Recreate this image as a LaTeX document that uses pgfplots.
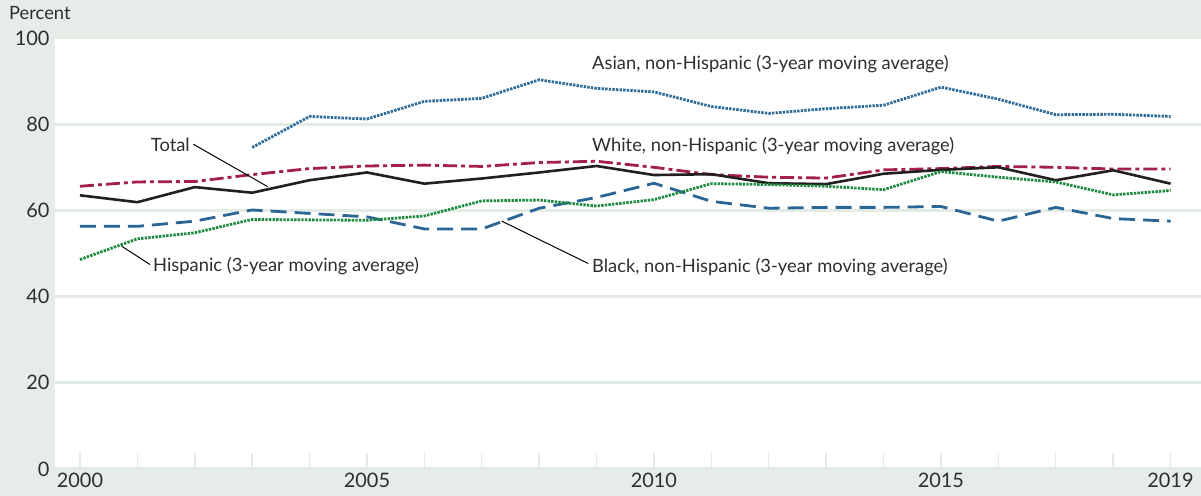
\documentclass[border=0pt]{standalone}
\usepackage{fontspec}
\setmainfont{Lato}
\usepackage{pgfplots}
\pgfplotsset{compat=1.18}

\definecolor{bgpanel}{HTML}{E6EDE8}
\definecolor{gridc}{HTML}{E3EBE5}
\definecolor{txt}{HTML}{2E2E2E}
\definecolor{asianblue}{HTML}{2E6B9A}
\definecolor{blackblue}{HTML}{2A6594}
\definecolor{whitered}{HTML}{A3204C}
\definecolor{hispgreen}{HTML}{1E8A3F}
\definecolor{totalblk}{HTML}{231F20}

\newcommand{\annfont}{\fontsize{18.4}{20}\selectfont}
\newcommand{\tickfont}{\fontsize{20}{22}\selectfont}

\begin{document}
\begin{tikzpicture}[x=1bp,y=1bp]
\fill[bgpanel] (0,0) rectangle (1201,496);
\useasboundingbox (0,0) rectangle (1201,496);
\begin{axis}[
  at={(55bp,27bp)}, anchor=south west,
  scale only axis, width=1146bp, height=431bp,
  xmin=1999.565, xmax=2019.53, ymin=0, ymax=100,
  clip mode=individual,
  axis line style={draw=none},
  axis background/.style={fill=white},
  xtick={2000,...,2019},
  xticklabels={2000,,,,,2005,,,,,2010,,,,,2015,,,,2019},
  xtick pos=bottom, tick align=inside,
  major tick length=16bp,
  x tick style={draw=gridc, line width=1.5bp},
  ytick={0,20,40,60,80,100},
  y tick style={draw=none},
  ymajorgrids,
  major grid style={draw=gridc, line width=3bp},
  /pgf/number format/assume math mode=true,
  ticklabel style={font=\tickfont, text=txt},
  yticklabel style={xshift=-2bp},
  xticklabel style={yshift=-1bp},
]
% Asian, non-Hispanic (3-year moving average)
\addplot[asianblue, line width=2.8bp, dash pattern=on 2.4bp off 1.2bp] coordinates {
(2003,74.6) (2004,81.8) (2005,81.2) (2006,85.3) (2007,86.0) (2008,90.3)
(2009,88.3) (2010,87.5) (2011,84.1) (2012,82.5) (2013,83.6) (2014,84.4)
(2015,88.6) (2016,85.8) (2017,82.2) (2018,82.3) (2019,81.8)};
% White, non-Hispanic (3-year moving average)
\addplot[whitered, line width=2.8bp, dash pattern=on 14bp off 4bp on 4bp off 4bp] coordinates {
(2000,65.6) (2001,66.6) (2002,66.7) (2003,68.3) (2004,69.7) (2005,70.3)
(2006,70.5) (2007,70.2) (2008,71.1) (2009,71.4) (2010,70.0) (2011,68.3)
(2012,67.7) (2013,67.5) (2014,69.4) (2015,69.7) (2016,70.2) (2017,70.0)
(2018,69.6) (2019,69.6)};
% Total
\addplot[totalblk, line width=2.6bp] coordinates {
(2000,63.5) (2001,61.9) (2002,65.4) (2003,64.1) (2004,67.0) (2005,68.8)
(2006,66.2) (2007,67.4) (2008,68.8) (2009,70.3) (2010,68.2) (2011,68.4)
(2012,66.3) (2013,66.1) (2014,68.5) (2015,69.4) (2016,70.0) (2017,67.0)
(2018,69.3) (2019,66.2)};
% Black, non-Hispanic (3-year moving average)
\addplot[blackblue, line width=2.8bp, dash pattern=on 16bp off 8bp] coordinates {
(2000,56.3) (2001,56.3) (2002,57.5) (2003,60.1) (2004,59.3) (2005,58.5)
(2006,55.7) (2007,55.7) (2008,60.5) (2009,63.0) (2010,66.3) (2011,62.1)
(2012,60.5) (2013,60.7) (2014,60.7) (2015,60.9) (2016,57.5) (2017,60.7)
(2018,58.1) (2019,57.5)};
% Hispanic (3-year moving average)
\addplot[hispgreen, line width=2.8bp, dash pattern=on 2.4bp off 1.2bp] coordinates {
(2000,48.6) (2001,53.4) (2002,54.8) (2003,57.9) (2004,57.8) (2005,57.7)
(2006,58.7) (2007,62.2) (2008,62.4) (2009,61.0) (2010,62.5) (2011,66.2)
(2012,66.0) (2013,65.6) (2014,64.8) (2015,69.0) (2016,67.7) (2017,66.6)
(2018,63.6) (2019,64.6)};

% series labels and leader lines
\node[anchor=base west, inner sep=0, text=txt, font=\annfont] at (axis cs:2008.92,92.6) {Asian, non-Hispanic (3-year moving average)};
\node[anchor=base west, inner sep=0, text=txt, font=\annfont] at (axis cs:2008.92,73.7) {White, non-Hispanic (3-year moving average)};
\node[anchor=base east, inner sep=0, text=txt, font=\annfont] at (axis cs:2001.916,73.7) {Total};
\node[anchor=base west, inner sep=0, text=txt, font=\annfont] at (axis cs:2001.272,45.8) {Hispanic (3-year moving average)};
\node[anchor=base west, inner sep=0, text=txt, font=\annfont] at (axis cs:2008.92,45.6) {Black, non-Hispanic (3-year moving average)};
\draw[black, line width=1bp] (axis cs:2001.974,75.35) -- (axis cs:2003.27,65.51);
\draw[black, line width=1bp] (axis cs:2000.726,51.70) -- (axis cs:2001.22,47.44);
\draw[black, line width=1bp] (axis cs:2007.347,57.51) -- (axis cs:2008.855,47.67);
\node[anchor=base west, inner sep=0, text=txt, font=\annfont] at (axis cs:1998.763,104.2) {Percent};
\end{axis}
\end{tikzpicture}
\end{document}
